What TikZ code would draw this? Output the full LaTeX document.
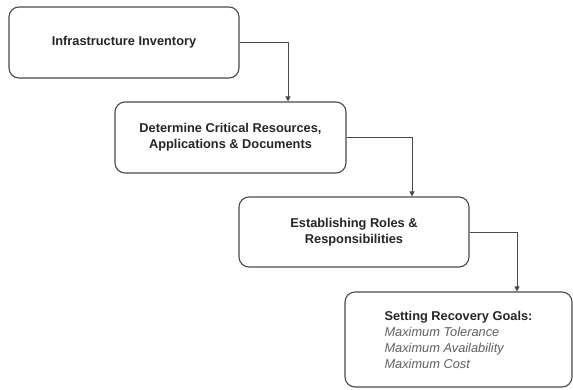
\documentclass[tikz,border=0pt]{standalone}
\usepackage{fontspec}
\setmainfont{Liberation Sans}
\usetikzlibrary{arrows.meta}
\definecolor{edgegray}{HTML}{4A4A4A}
\definecolor{textdark}{HTML}{262626}
\definecolor{textgray}{HTML}{606060}
\begin{document}
\begin{tikzpicture}[x=1pt,y=-1pt,
  stepbox/.style={draw=edgegray, line width=1.1pt, rounded corners=10pt, fill=white,
    inner sep=0pt, align=center, text=textdark,
    font=\fontsize{12.8}{16}\selectfont\bfseries},
  link/.style={draw=edgegray, line width=1pt, -{Triangle[length=5pt,width=5pt]}}]
\useasboundingbox (0,0) rectangle (573,389);
\fill[white] (0,0) rectangle (573,389);
\node[stepbox, minimum width=230pt, minimum height=71pt] (b1) at (124,42.5) {Infrastructure Inventory};
\node[stepbox, minimum width=231pt, minimum height=71pt] (b2) at (230.5,137.5) {Determine Critical Resources,\\Applications \& Documents};
\node[stepbox, minimum width=230pt, minimum height=70pt] (b3) at (354,232) {Establishing Roles \&\\Responsibilities};
\node[stepbox, minimum width=227pt, minimum height=95pt, align=left, text depth=0pt] (b4) at (458.5,339.5) {Setting Recovery Goals:\\
  {\mdseries\itshape\color{textgray}Maximum Tolerance}\\
  {\mdseries\itshape\color{textgray}Maximum Availability}\\
  {\mdseries\itshape\color{textgray}Maximum Cost}};
\draw[link] (b1.east) -| ([xshift=57.5pt]b2.north);
\draw[link] (b2.east) -| ([xshift=58pt]b3.north);
\draw[link] (b3.east) -| ([xshift=58.5pt]b4.north);
\end{tikzpicture}
\end{document}
